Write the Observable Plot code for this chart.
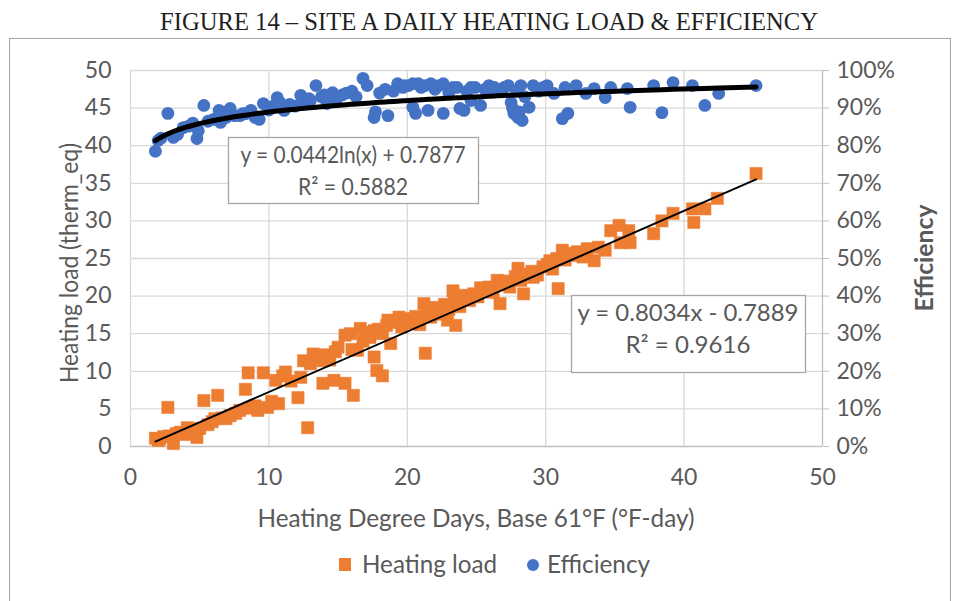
<!DOCTYPE html>
<html><head><meta charset="utf-8">
<script src="https://cdn.jsdelivr.net/npm/d3@7"></script>
<script src="https://cdn.jsdelivr.net/npm/@observablehq/plot@0.6"></script>
<style>
html,body{margin:0;padding:0;background:#fff;}
#wrap{position:relative;width:958px;height:601px;overflow:hidden;}
#wrap svg{position:absolute;left:0;top:0;}
</style></head><body><div id="wrap"></div>
<script>
// ---- data ----
const loadX = [1.8,2.0,2.1,2.4,2.7,2.8,3.1,3.3,3.6,3.9,4.1,4.4,4.8,5.0,5.3,5.6,5.9,6.1,6.3,6.6,6.9,7.2,7.6,7.9,8.3,8.5,8.6,9.0,9.2,9.6,9.9,10.2,10.5,10.7,11.0,11.2,11.6,12.1,12.3,12.5,12.8,13.0,13.2,13.5,13.9,13.9,14.0,14.4,14.7,14.8,15.0,15.5,15.5,15.9,16.1,16.0,16.4,16.6,16.8,17.0,17.3,17.6,17.6,17.8,18.2,17.9,18.2,18.6,18.5,18.8,19.1,19.4,19.6,19.9,20.2,20.4,20.6,20.9,21.2,21.3,21.4,21.7,22.0,22.1,22.4,22.7,22.9,23.0,23.3,23.4,23.5,23.8,24.0,24.3,24.5,24.8,25.1,25.3,25.6,25.9,26.2,26.5,26.7,26.8,27.1,27.4,27.8,28.0,28.2,28.4,28.6,29.0,29.1,29.4,29.8,30.1,30.3,30.5,30.8,30.9,31.2,31.4,31.6,31.9,32.3,32.7,33.0,33.5,33.8,34.3,34.7,35.3,35.4,36.0,36.1,37.8,38.4,39.2,40.6,40.7,41.5,42.4,45.2];
const loadY = [1.1,0.8,1.0,1.3,5.2,1.4,0.4,1.7,1.9,1.6,2.5,2.1,1.2,2.4,6.1,2.9,3.3,3.7,6.8,3.8,3.7,4.1,4.4,4.8,7.6,9.8,5.1,5.4,4.8,9.8,5.2,6.0,8.8,5.7,9.4,9.9,8.7,6.5,9.2,11.4,2.5,11.0,12.3,11.8,11.4,8.4,12.2,11.5,8.8,12.6,13.2,8.4,14.8,15.0,6.8,12.9,12.8,15.7,14.0,15.2,14.5,11.9,15.4,10.1,9.4,15.6,15.0,16.8,16.1,13.7,16.5,17.2,15.9,17.0,16.9,16.4,17.3,16.2,19.0,12.4,17.8,17.2,18.5,18.1,17.6,18.9,16.8,18.2,20.7,19.3,16.1,18.6,20.1,19.8,19.4,20.3,19.9,21.1,20.6,21.2,20.5,22.1,19.0,21.5,22.0,21.2,22.6,23.7,22.1,20.3,22.9,23.3,22.5,22.8,23.9,24.2,24.7,23.6,25.0,21.0,26.1,24.8,25.7,25.4,25.9,25.2,26.3,24.7,26.5,26.1,28.7,29.4,27.1,28.7,27.1,28.3,30.0,31.0,31.6,29.8,31.6,33.0,36.3];
const effX = [1.8,2.0,2.2,2.7,3.1,3.4,3.8,4.2,4.5,4.8,4.9,5.3,5.6,6.0,6.4,6.5,6.9,7.2,7.5,7.9,8.3,8.7,9.0,9.3,9.6,10.0,10.3,10.6,11.1,11.5,11.9,12.3,12.6,13.0,13.4,13.8,14.2,14.6,14.9,15.3,15.9,16.3,16.8,17.1,17.6,17.7,18.0,18.4,18.6,19.0,19.3,19.7,20.1,20.4,20.4,20.6,21.0,21.3,21.5,21.7,22.0,22.3,22.6,22.6,23.0,23.3,23.8,24.1,24.3,24.6,24.9,25.3,25.6,26.0,26.5,27.0,27.5,27.7,28.0,28.2,28.3,28.5,28.8,29.1,29.5,30.1,30.6,31.2,31.4,31.6,32.2,32.9,33.5,34.3,34.7,35.9,36.1,37.8,38.4,39.2,40.6,41.5,42.5,45.2,19.8,20.8,21.9,23.6,24.6,25.9,26.3,27.3,27.6,27.9,28.1,29.8,14.0,15.6,16.0,10.8,12.9,8.1];
const effY = [0.785,0.814,0.82,0.886,0.822,0.83,0.848,0.852,0.86,0.819,0.84,0.907,0.865,0.87,0.894,0.862,0.875,0.899,0.88,0.88,0.885,0.894,0.875,0.87,0.912,0.895,0.905,0.928,0.894,0.91,0.905,0.934,0.915,0.92,0.96,0.93,0.912,0.941,0.925,0.935,0.941,0.93,0.979,0.96,0.875,0.89,0.94,0.95,0.88,0.945,0.965,0.955,0.96,0.965,0.902,0.886,0.955,0.96,0.894,0.965,0.95,0.96,0.965,0.886,0.94,0.955,0.899,0.894,0.945,0.92,0.955,0.907,0.95,0.952,0.945,0.955,0.915,0.886,0.875,0.96,0.867,0.93,0.902,0.96,0.945,0.96,0.939,0.872,0.955,0.886,0.96,0.939,0.952,0.928,0.955,0.952,0.902,0.96,0.888,0.968,0.96,0.907,0.939,0.96,0.96,0.965,0.96,0.955,0.955,0.96,0.955,0.96,0.90,0.945,0.89,0.955,0.935,0.94,0.945,0.915,0.925,0.885];
const xTicks = [0,10,20,30,40,50];
const yTicks = [0,5,10,15,20,25,30,35,40,45,50];
const effTickLabels = ["0%","10%","20%","30%","40%","50%","60%","70%","80%","90%","100%"];
const linCoef = [0.8034, -0.7889];   // y = a x + b
const logCoef = [0.0442, 0.7877];    // y = a ln(x) + b
const linText = ["y = 0.8034x - 0.7889", "R² = 0.9616"];
const logText = ["y = 0.0442ln(x) + 0.7877", "R² = 0.5882"];
const titleText = "FIGURE 14 – SITE A DAILY HEATING LOAD & EFFICIENCY";
const xLabel = "Heating Degree Days, Base 61°F (°F-day)";
const yLabel = "Heating load (therm_eq)";
const y2Label = "Efficiency";
const seriesNames = ["Heating load", "Efficiency"];
const colors = ["#ED7D31", "#4472C4"];

// ---- build ----
const effMax = 50; // 100% on the right axis equals 50 on the left axis
const load = loadX.map((x, i) => ({x, y: loadY[i]}));
const eff = effX.map((x, i) => ({x, e: effY[i]}));
const linEnds = [d3.min(loadX), d3.max(loadX)].map(x => ({x, y: linCoef[0] * x + linCoef[1]}));
const logLine = Array.from(new Set(effX)).sort((a, b) => a - b)
  .map(x => ({x, e: logCoef[0] * Math.log(x) + logCoef[1]}));

const FONT = "Lato, 'Open Sans', sans-serif";
const chart = Plot.plot({
  width: 958, height: 601,
  marginLeft: 130, marginRight: 136, marginTop: 70, marginBottom: 155,
  style: {fontFamily: FONT, fontSize: "23px", color: "#595959", background: "transparent", overflow: "visible"},
  x: {domain: [0, 50]},
  y: {domain: [0, 50]},
  marks: [
    Plot.gridY(yTicks.slice(1), {stroke: "#d9d9d9", strokeOpacity: 1, strokeWidth: 1.3}),
    Plot.gridX(xTicks.slice(0, -1), {stroke: "#d9d9d9", strokeOpacity: 1, strokeWidth: 1.3}),
    Plot.ruleY([0], {stroke: "#bfbfbf", strokeWidth: 1.3}),
    Plot.ruleX([50], {stroke: "#bfbfbf", strokeWidth: 1.3}),
    Plot.axisX(xTicks, {tickSize: 0, tickPadding: 22, fill: "#595959", label: null}),
    Plot.axisY(yTicks, {tickSize: 0, tickPadding: 19, fill: "#595959", label: null}),
    Plot.axisY(yTicks, {anchor: "right", tickSize: 6, tickPadding: 8, stroke: "#bfbfbf", fill: "#595959",
      tickFormat: (d) => effTickLabels[yTicks.indexOf(d)], label: null}),
    Plot.dot(load, {x: "x", y: "y", symbol: "square", r: 6.9, fill: colors[0], stroke: colors[0], strokeWidth: 0.5}),
    Plot.line(linEnds, {x: "x", y: "y", stroke: "#000", strokeWidth: 2}),
    Plot.dot(eff, {x: "x", y: d => d.e * effMax, r: 6.4, fill: colors[1]}),
    Plot.line(logLine, {x: "x", y: d => d.e * effMax, stroke: "#000", strokeWidth: 5, strokeLinejoin: "round"})
  ]
});
const wrap = d3.select("#wrap");
wrap.node().appendChild(chart);

const svg = wrap.append("svg").attr("width", 958).attr("height", 601)
  .style("font-family", FONT).style("pointer-events", "none");
// outer border
svg.append("rect").attr("x", 9.5).attr("y", 38.5).attr("width", 941).attr("height", 575)
  .attr("fill", "none").attr("stroke", "#a6a6a6").attr("stroke-width", 1);
// title
svg.append("text").attr("x", 489).attr("y", 30).attr("text-anchor", "middle")
  .attr("font-family", "'Liberation Serif', 'DejaVu Serif', serif").attr("font-size", 25)
  .attr("fill", "#1f1f1f").attr("textLength", 658).attr("lengthAdjust", "spacingAndGlyphs")
  .text(titleText);
// axis titles
svg.append("text").attr("x", 476).attr("y", 527).attr("text-anchor", "middle")
  .attr("font-size", 25).attr("fill", "#595959").attr("textLength", 437).attr("lengthAdjust", "spacingAndGlyphs")
  .text(xLabel);
svg.append("text").attr("transform", "translate(78,263) rotate(-90)").attr("text-anchor", "middle")
  .attr("font-size", 25).attr("fill", "#595959").attr("textLength", 240).attr("lengthAdjust", "spacingAndGlyphs")
  .text(yLabel);
svg.append("text").attr("transform", "translate(933,258) rotate(-90)").attr("text-anchor", "middle")
  .attr("font-size", 24).attr("font-weight", "bold").attr("fill", "#595959").attr("textLength", 107).attr("lengthAdjust", "spacingAndGlyphs")
  .text(y2Label);
// legend
svg.append("rect").attr("x", 339).attr("y", 558).attr("width", 12).attr("height", 13).attr("fill", colors[0]);
svg.append("text").attr("x", 362).attr("y", 573).attr("font-size", 25).attr("fill", "#595959")
  .attr("textLength", 135).attr("lengthAdjust", "spacingAndGlyphs").text(seriesNames[0]);
svg.append("circle").attr("cx", 533).attr("cy", 565).attr("r", 6).attr("fill", colors[1]);
svg.append("text").attr("x", 547).attr("y", 573).attr("font-size", 25).attr("fill", "#595959")
  .attr("textLength", 103).attr("lengthAdjust", "spacingAndGlyphs").text(seriesNames[1]);
// equation boxes
function eqBox(x, y, w, h, lines, widths) {
  svg.append("rect").attr("x", x + 0.5).attr("y", y + 0.5).attr("width", w).attr("height", h)
    .attr("fill", "#fff").attr("stroke", "#a6a6a6").attr("stroke-width", 1.3);
  lines.forEach((t, i) => {
    svg.append("text").attr("x", x + w / 2).attr("y", y + 26 + i * 32).attr("text-anchor", "middle")
      .attr("font-size", 24).attr("fill", "#595959")
      .attr("textLength", widths[i]).attr("lengthAdjust", "spacingAndGlyphs").text(t);
  });
}
eqBox(228, 137, 250, 66, logText, [225, 110]);
eqBox(571, 295, 234, 77, linText, [221, 125]);
</script></body></html>
